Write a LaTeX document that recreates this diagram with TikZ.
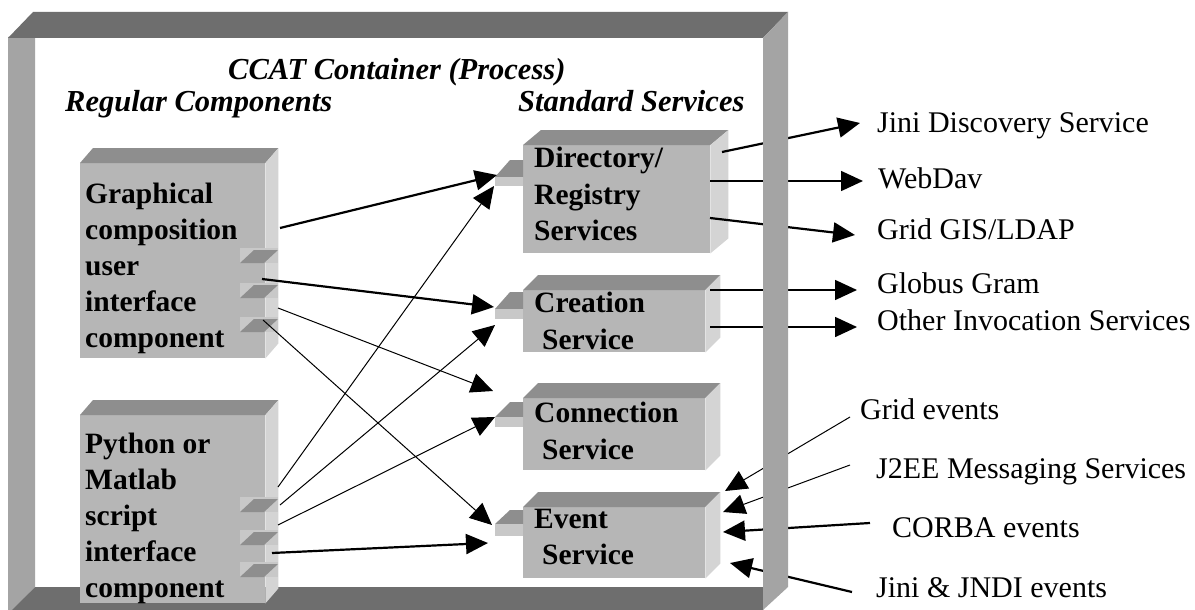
\documentclass[tikz,border=0pt]{standalone}
\usepackage{fontspec}
\setmainfont{Liberation Serif}
\usetikzlibrary{arrows.meta}
\definecolor{frameDark}{HTML}{6E6E6E}
\definecolor{frameMid}{HTML}{A4A4A4}
\definecolor{boxFront}{HTML}{B6B6B6}
\definecolor{boxTop}{HTML}{8E8E8E}
\definecolor{boxSide}{HTML}{D4D4D4}
\definecolor{portLight}{HTML}{C8C8C8}
\definecolor{portDark}{HTML}{8E8E8E}
\newcommand\facesof[3]{%
  \fill[boxTop] (#1.north west) -- ++(#2,-#3) -- ([shift={(#2,-#3)}]#1.north east) -- (#1.north east) -- cycle;
  \fill[boxSide] (#1.north east) -- ++(#2,-#3) -- ([shift={(#2,-#3)}]#1.south east) -- (#1.south east) -- cycle;}
\newcommand\cport[2]{%
  \fill[portLight] (#1,#2) rectangle ++(38,15);
  \fill[portDark] (#1,#2+15) -- ++(14,-13) -- ++(24,0) -- ++(-14,13) -- cycle;}
\newcommand\sport[4]{% x, top, dark height, light height
  \fill[portDark] (#1,#2+#3) -- (#1+15,#2) -- (#1+28,#2) -- (#1+28,#2+#3) -- cycle;
  \fill[portLight] (#1,#2+#3) rectangle (#1+28,#2+#3+#4);}
\newcommand\boxtext[4]{\begin{minipage}[t][#1][t]{#2}\raggedright\vspace*{#3}#4\end{minipage}}
\begin{document}
\begin{tikzpicture}[x=1pt,y=-1pt,
  compbox/.style={fill=boxFront, anchor=north west, inner xsep=5pt, inner ysep=0pt,
    font=\fontsize{29.5}{36}\selectfont\bfseries},
  servbox/.style={fill=boxFront, anchor=north west, inner xsep=11pt, inner ysep=0pt,
    font=\fontsize{29.5}{36.5}\selectfont\bfseries},
  header/.style={anchor=base west, inner sep=0pt, font=\fontsize{30.5}{34}\selectfont\bfseries\itshape},
  extlabel/.style={anchor=base west, inner sep=0pt, font=\fontsize{30}{34}\selectfont},
  tip/.style={-{Triangle[length=22pt,width=20pt]}},
  thickconn/.style={tip, line width=2.2pt},
  medconn/.style={tip, line width=1.6pt},
  thinconn/.style={tip, line width=1pt}]
\useasboundingbox (0,0) rectangle (1195,610);
\fill[white] (0,0) rectangle (1195,610);
% container frame
\fill[frameMid] (8,37) -- (35,37) -- (35,587) -- (13,610) -- (8,610) -- cycle;
\fill[frameDark] (8,38) -- (33,12) -- (788,12) -- (763,38) -- cycle;
\fill[frameDark] (35,587) -- (763,587) -- (763,610) -- (12,610) -- cycle;
% headers
\node[header] (title) at (228,80) {CCAT Container (Process)};
\node[header] (regular) at (65,111) {Regular Components};
\node[header] (standard) at (518,111) {Standard Services};
% regular components
\node[compbox] (gc) at (80,163)
  {\boxtext{195pt}{175pt}{20pt}{Graphical\\composition\\user\\interface\\component}};
\facesof{gc}{13}{15}
\cport{240}{248}\cport{240}{283}\cport{240}{317}
\node[compbox] (py) at (80,415)
  {\boxtext{188pt}{175pt}{18pt}{Python or\\Matlab\\script\\interface\\component}};
\facesof{py}{13}{15}
\cport{240}{497}\cport{240}{530}\cport{240}{562}
% standard services
\node[servbox] (dir) at (523,145)
  {\boxtext{108pt}{165pt}{2pt}{Directory/\\Registry\\Services}};
\facesof{dir}{18}{15}
\sport{495}{160}{17}{9}
\node[servbox] (cre) at (523,290)
  {\boxtext{62pt}{160pt}{2pt}{Creation\\\hspace*{8pt}Service}};
\facesof{cre}{15}{15}
\sport{495}{292}{17}{10}
\node[servbox] (con) at (523,398)
  {\boxtext{72pt}{160pt}{4pt}{Connection\\\hspace*{8pt}Service}};
\facesof{con}{15}{15}
\sport{495}{402}{15}{10}
\node[servbox] (evt) at (523,507)
  {\boxtext{71pt}{160pt}{1.5pt}{Event\\\hspace*{8pt}Service}};
\facesof{evt}{15}{15}
\sport{495}{510}{14}{12}
% connector ends
\coordinate (gcA) at (280,228);
\coordinate (gcB) at (262,279);
\coordinate (gcC) at (278,308);
\coordinate (gcD) at (263,320);
\coordinate (pyA) at (278,487);
\coordinate (pyB) at (280,505);
\coordinate (pyC) at (278,525);
\coordinate (pyD) at (272,553);
\coordinate (dirIn1) at (497,175);
\coordinate (dirIn2) at (494,186);
\coordinate (creIn1) at (494,307);
\coordinate (creIn2) at (495,325);
\coordinate (conIn1) at (493,391);
\coordinate (conIn2) at (495,417);
\coordinate (evtIn1) at (492,525);
\coordinate (evtIn2) at (488,543);
\draw[thickconn] (gcA) -- (dirIn1);
\draw[thickconn] (gcB) -- (creIn1);
\draw[thinconn] (gcC) -- (conIn1);
\draw[thinconn] (gcD) -- (evtIn1);
\draw[thinconn] (pyA) -- (dirIn2);
\draw[thinconn] (pyB) -- (creIn2);
\draw[thinconn] (pyC) -- (conIn2);
\draw[thickconn] (pyD) -- (evtIn2);
% external labels
\node[extlabel] (jini) at (877,132) {Jini Discovery Service};
\node[extlabel] (webdav) at (878,188) {WebDav};
\node[extlabel] (gis) at (877,239) {Grid GIS/LDAP};
\node[extlabel] (globus) at (877,293) {Globus Gram};
\node[extlabel] (other) at (877,330) {Other Invocation Services};
\node[extlabel] (gridev) at (860,419) {Grid events};
\node[extlabel] (j2ee) at (876,478) {J2EE Messaging Services};
\node[extlabel] (corba) at (892,537) {CORBA events};
\node[extlabel] (jndi) at (876,597) {Jini \& JNDI events};
\coordinate (dirOut1) at (722,152);
\coordinate (dirOut2) at (710,181);
\coordinate (dirOut3) at (710,218);
\coordinate (creOut1) at (710,290);
\coordinate (creOut2) at (710,327);
\coordinate (jiniTip) at (860,123);
\coordinate (webdavTip) at (863,181);
\coordinate (gisTip) at (855,235);
\coordinate (globusTip) at (857,290);
\coordinate (otherTip) at (857,327);
\coordinate (gridevEnd) at (850,417);
\coordinate (j2eeEnd) at (850,465);
\coordinate (corbaEnd) at (870,523);
\coordinate (jndiEnd) at (852,592);
\coordinate (evtR1) at (725,491);
\coordinate (evtR2) at (723,512);
\coordinate (evtR3) at (723,532);
\coordinate (evtR4) at (730,563);
\draw[thickconn] (dirOut1) -- (jiniTip);
\draw[medconn] (dirOut2) -- (webdavTip);
\draw[thickconn] (dirOut3) -- (gisTip);
\draw[medconn] (creOut1) -- (globusTip);
\draw[medconn] (creOut2) -- (otherTip);
\draw[thinconn] (gridevEnd) -- (evtR1);
\draw[thinconn] (j2eeEnd) -- (evtR2);
\draw[thickconn] (corbaEnd) -- (evtR3);
\draw[thickconn] (jndiEnd) -- (evtR4);
% container right face on top of connectors
\fill[frameMid] (763,38) -- (788,12) -- (788,587) -- (763,610) -- cycle;
\end{tikzpicture}
\end{document}
